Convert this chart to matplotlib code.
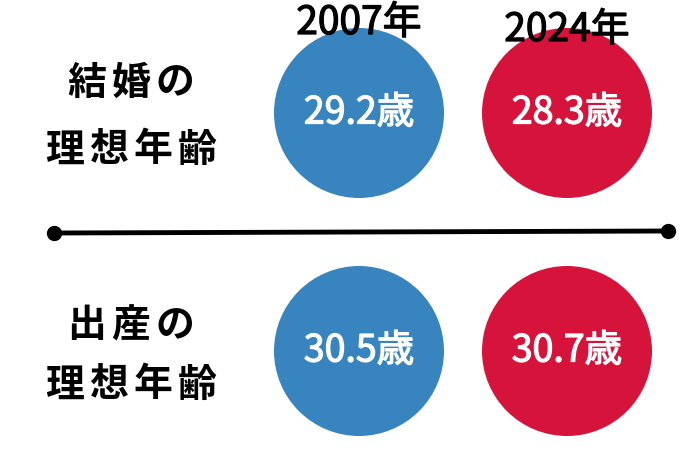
import matplotlib.pyplot as plt
import matplotlib.patheffects as pe
from matplotlib.patches import Circle

plt.rcParams['font.family'] = ['Noto Sans CJK JP', 'DejaVu Sans']

# データ
years = ['2007年', '2024年']
rows = ['結婚の\n理想年齢', '出産の\n理想年齢']
ages = [[29.2, 28.3],
        [30.5, 30.7]]
colors = ['#3784be', '#d6143b']

fig = plt.figure(figsize=(6.9, 4.6), dpi=100)
ax = fig.add_axes([0, 0, 1, 1])
ax.set_xlim(0, 690)
ax.set_ylim(460, 0)
ax.set_aspect('equal')
ax.axis('off')

col_x = [359, 567]
row_y = [114, 352]
radius = 85

# 少し太め (medium 相当) にするための縁取り
thick_w = [pe.withStroke(linewidth=0.9, foreground='white')]
thick_k = [pe.withStroke(linewidth=0.9, foreground='black')]

# 円と数値
for i, row in enumerate(ages):
    for j, v in enumerate(row):
        ax.add_patch(Circle((col_x[j], row_y[i]), radius, color=colors[j], lw=0))
        ax.text(col_x[j], row_y[i], f'{v}歳', color='white', fontsize=27,
                ha='center', va='center', path_effects=thick_w)

# 年のラベル
year_y = [24, 31]
for j, y in enumerate(years):
    ax.text(col_x[j], year_y[j], y, fontsize=28, ha='center', va='center',
            color='black', path_effects=thick_k)

# 左側のラベル (1文字ずつ配置して字間を広げる)
label_lines_y = [[83, 150], [326, 385]]
for i, lab in enumerate(rows):
    for k, line in enumerate(lab.split('\n')):
        n = len(line)
        step = 44
        x0 = 131 - step * (n - 1) / 2
        for m, ch in enumerate(line):
            ax.text(x0 + m * step, label_lines_y[i][k], ch, fontsize=28,
                    ha='center', va='center', color='black', fontweight='semibold')

# 区切り線
ax.plot([54, 668], [234, 232], color='black', lw=3.5, solid_capstyle='butt')
ax.plot([54, 668], [234, 232], 'o', color='black', ms=10)

fig.savefig('out.png', dpi=100, facecolor='white')
